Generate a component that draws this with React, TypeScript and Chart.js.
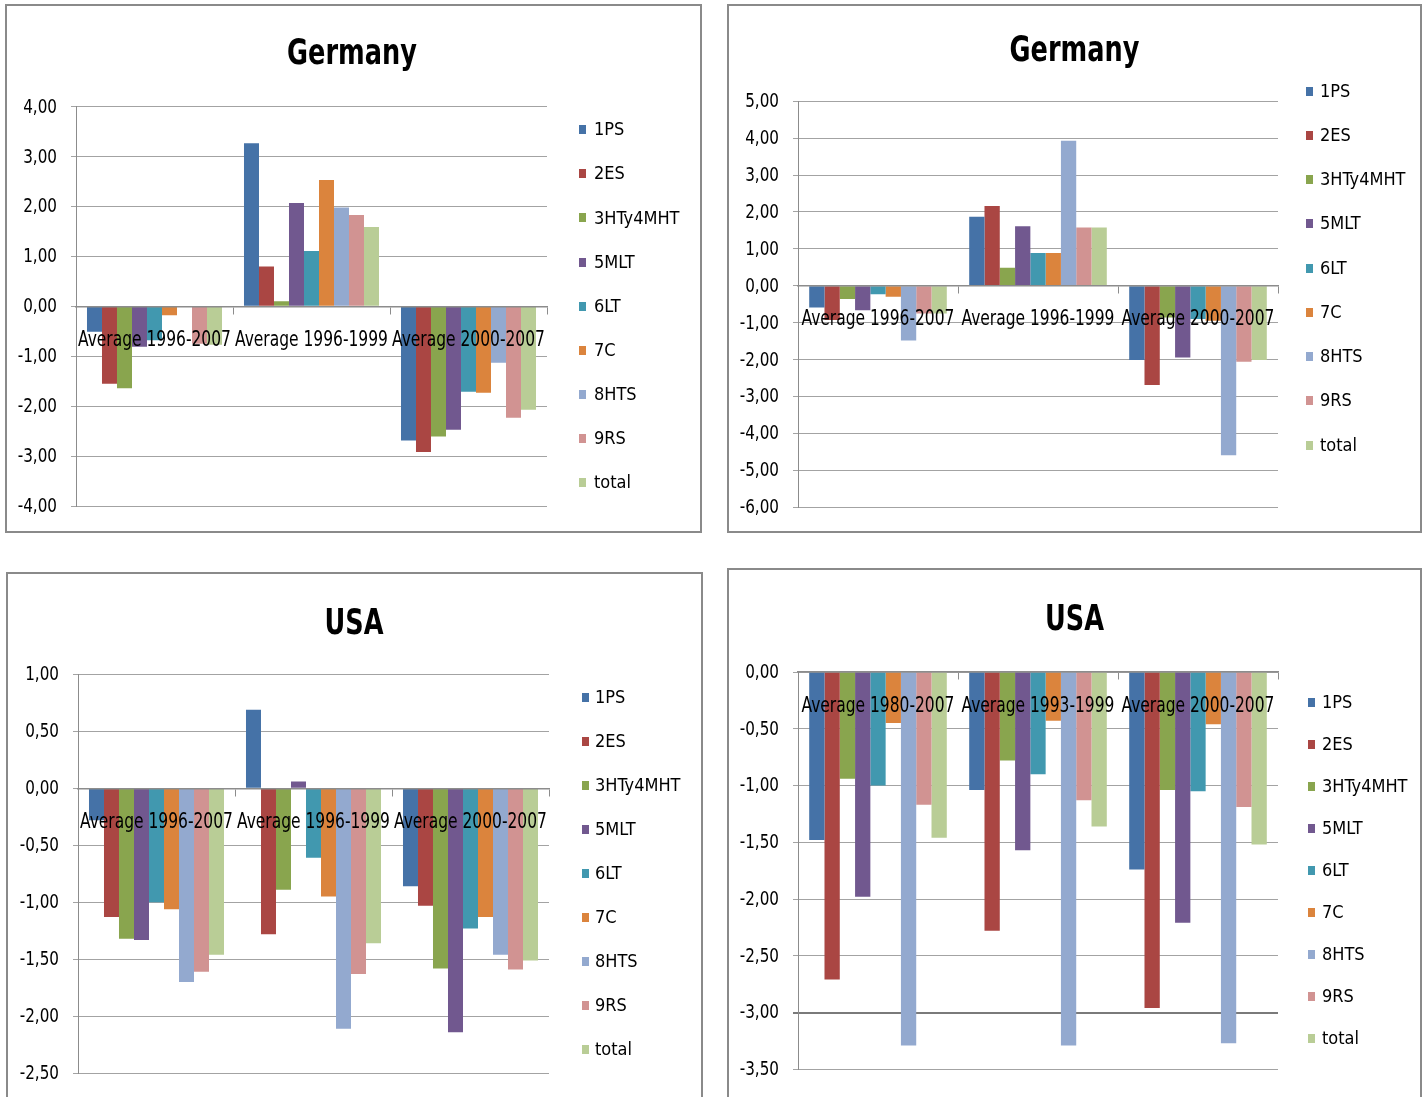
import React, { useEffect, useRef } from 'react';
import { Chart, registerables } from 'chart.js';

Chart.register(...registerables);

// ---- Series shared by all four panels ----
const SERIES_NAMES = ['1PS', '2ES', '3HTy4MHT', '5MLT', '6LT', '7C', '8HTS', '9RS', 'total'];
const SERIES_COLORS = ['#4572A7', '#AA4643', '#89A54E', '#71588F', '#4198AF', '#DB843D', '#93A9CF', '#D19392', '#B9CD96'];

// ---- Germany (left) ----
const DE_A_PERIODS = ['Average 1996-2007', 'Average 1996-1999', 'Average 2000-2007'];
// one row per series, in SERIES_NAMES order
const DE_A_VALUES: number[][] = [
  [-0.51, 3.27, -2.69],
  [-1.55, 0.80, -2.92],
  [-1.64, 0.10, -2.61],
  [-0.81, 2.07, -2.47],
  [-0.68, 1.11, -1.71],
  [-0.18, 2.53, -1.73],
  [0.0, 1.98, -1.13],
  [-0.75, 1.83, -2.23],
  [-0.77, 1.59, -2.07],
];
const DE_A_AXIS = [-4, 4, 1]; // min, max, step

// ---- Germany (right) ----
const DE_B_PERIODS = ['Average 1996-2007', 'Average 1996-1999', 'Average 2000-2007'];
const DE_B_VALUES: number[][] = [
  [-0.59, 1.87, -2.01],
  [-0.93, 2.16, -2.69],
  [-0.36, 0.49, -0.86],
  [-0.66, 1.61, -1.94],
  [-0.23, 0.89, -0.90],
  [-0.30, 0.89, -0.95],
  [-1.48, 3.93, -4.59],
  [-0.75, 1.58, -2.06],
  [-0.75, 1.58, -2.01],
];
const DE_B_AXIS = [-6, 5, 1];

// ---- USA (left) ----
const US_A_PERIODS = ['Average 1996-2007', 'Average 1996-1999', 'Average 2000-2007'];
const US_A_VALUES: number[][] = [
  [-0.28, 0.69, -0.86],
  [-1.13, -1.28, -1.03],
  [-1.32, -0.89, -1.58],
  [-1.33, 0.06, -2.14],
  [-1.00, -0.61, -1.23],
  [-1.06, -0.95, -1.13],
  [-1.70, -2.11, -1.46],
  [-1.61, -1.63, -1.59],
  [-1.46, -1.36, -1.51],
];
const US_A_AXIS = [-2.5, 1, 0.5];

// ---- USA (right) ----
const US_B_PERIODS = ['Average 1980-2007', 'Average 1993-1999', 'Average 2000-2007'];
const US_B_VALUES: number[][] = [
  [-1.48, -1.04, -1.74],
  [-2.71, -2.28, -2.96],
  [-0.94, -0.78, -1.04],
  [-1.98, -1.57, -2.21],
  [-1.00, -0.90, -1.05],
  [-0.45, -0.43, -0.46],
  [-3.29, -3.29, -3.27],
  [-1.17, -1.13, -1.19],
  [-1.46, -1.36, -1.52],
];
const US_B_AXIS = [-3.5, 0, 0.5];

const FONT = "'DejaVu Sans Condensed', 'DejaVu Sans', sans-serif";
const GRID_COLOR = '#a3a3a3';
const AXIS_COLOR = '#8c8c8c';
const FRAME_COLOR = '#8a8a8a';
const TITLE_SQUEEZE = 0.79;
const CATEGORY_SQUEEZE = 0.82;
const VALUE_SQUEEZE = 0.89;

const formatValue = (v: number) => v.toFixed(2).replace('.', ',');

// Value labels, category names under the zero line (drawn over the bars), heading and legend.
const panelDecor = {
  id: 'panelDecor',
  afterDatasetsDraw(chart: any, _args: any, opts: any) {
    const ctx = chart.ctx as CanvasRenderingContext2D;
    const xs = chart.scales.x;
    const ys = chart.scales.y;

    ctx.save();
    ctx.fillStyle = '#000';
    ctx.textBaseline = 'middle';
    ctx.textAlign = 'right';
    ctx.font = `19px ${FONT}`;
    const labelRight = ys.right - opts.valueGap;
    ys.ticks.forEach((t: any) => {
      ctx.save();
      ctx.translate(labelRight, ys.getPixelForValue(t.value) + 1);
      ctx.scale(VALUE_SQUEEZE, 1);
      ctx.fillText(formatValue(t.value), 0, 0);
      ctx.restore();
    });

    const baseY = ys.getPixelForValue(0) + opts.labelDrop;
    ctx.font = `21px ${FONT}`;
    ctx.textAlign = 'center';
    ctx.textBaseline = 'alphabetic';
    (chart.data.labels as string[]).forEach((lab, i) => {
      ctx.save();
      ctx.translate(xs.getPixelForValue(i), baseY);
      ctx.scale(CATEGORY_SQUEEZE, 1);
      ctx.fillText(lab, 0, 0);
      ctx.restore();
    });
    ctx.restore();
  },
  afterDraw(chart: any, _args: any, opts: any) {
    const ctx = chart.ctx as CanvasRenderingContext2D;
    ctx.save();
    ctx.fillStyle = '#000';
    ctx.font = `bold 36px ${FONT}`;
    ctx.textAlign = 'center';
    ctx.textBaseline = 'alphabetic';
    ctx.save();
    ctx.translate(opts.titleX, opts.titleY);
    ctx.scale(TITLE_SQUEEZE, 1);
    ctx.fillText(opts.title, 0, 0);
    ctx.restore();

    ctx.font = `18px ${FONT}`;
    ctx.textAlign = 'left';
    ctx.textBaseline = 'middle';
    chart.data.datasets.forEach((ds: any, i: number) => {
      const cy = opts.legendY + i * opts.legendGap;
      ctx.fillStyle = ds.backgroundColor;
      ctx.fillRect(opts.legendX, Math.round(cy - 4.5), 7, 9);
      ctx.fillStyle = '#000';
      ctx.fillText(ds.label, opts.textX, cy + 1);
    });
    ctx.restore();
  },
};

type PanelProps = {
  title: string;
  periods: string[];
  values: number[][];
  axis: number[];
  box: { left: number; top: number; width: number; height: number };
  area: { left: number; top: number; right: number; bottom: number };
  titlePos: { x: number; y: number };
  legend: { x: number; textX: number; y: number; gap: number };
  strongLine?: number;
};

function ChartPanel(p: PanelProps) {
  const ref = useRef<HTMLCanvasElement | null>(null);
  const cw = p.box.width - 4;
  const ch = p.box.height - 4;

  useEffect(() => {
    if (!ref.current) return;
    const [yMin, yMax, yStep] = p.axis;
    const isStrong = (c: any) => p.strongLine !== undefined && c.tick && c.tick.value === p.strongLine;
    const chart = new Chart(ref.current, {
      type: 'bar',
      data: {
        labels: p.periods,
        datasets: SERIES_NAMES.map((name, i) => ({
          label: name,
          data: p.values[i],
          backgroundColor: SERIES_COLORS[i],
          borderWidth: 0,
          barPercentage: 1,
          categoryPercentage: 0.86,
        })),
      },
      options: {
        animation: false,
        responsive: false,
        devicePixelRatio: 1,
        layout: {
          padding: {
            left: 0,
            top: p.area.top,
            right: cw - p.area.right,
            bottom: ch - p.area.bottom,
          },
        },
        plugins: {
          legend: { display: false },
          title: { display: false },
          tooltip: { enabled: false },
          panelDecor: {
            title: p.title,
            titleX: p.titlePos.x,
            titleY: p.titlePos.y,
            legendX: p.legend.x,
            textX: p.legend.textX,
            legendY: p.legend.y,
            legendGap: p.legend.gap,
            labelDrop: 39.5,
            valueGap: 19,
          },
        } as any,
        scales: {
          x: {
            position: { y: 0 } as any,
            offset: true,
            grid: {
              display: true,
              drawOnChartArea: false,
              drawTicks: true,
              tickLength: 7,
              offset: true,
              color: AXIS_COLOR,
            },
            border: { display: true, color: AXIS_COLOR, width: 1.5, z: 1 } as any,
            ticks: { display: false, autoSkip: false, maxRotation: 0, minRotation: 0 },
          },
          y: {
            min: yMin,
            max: yMax,
            grid: {
              color: (c: any) => (isStrong(c) ? '#7a7a7a' : GRID_COLOR),
              lineWidth: (c: any) => (isStrong(c) ? 2 : 1),
              drawTicks: true,
              tickLength: 5,
            },
            border: { display: true, color: AXIS_COLOR },
            ticks: {
              display: false,
              stepSize: yStep,
            },
            afterFit: (s: any) => {
              s.width = p.area.left;
            },
          },
        },
      },
      plugins: [panelDecor],
    });
    return () => chart.destroy();
  }, []);

  return (
    <div
      style={{
        position: 'absolute',
        left: p.box.left,
        top: p.box.top,
        width: p.box.width,
        height: p.box.height,
        border: `2px solid ${FRAME_COLOR}`,
        boxSizing: 'border-box',
        background: '#fff',
      }}
    >
      <canvas ref={ref} width={cw} height={ch} style={{ display: 'block', width: cw, height: ch }} />
    </div>
  );
}

export default function App() {
  return (
    <div
      style={{
        position: 'fixed',
        left: 0,
        top: 0,
        width: 1426,
        height: 1097,
        background: '#fff',
        overflow: 'hidden',
      }}
    >
      <ChartPanel
        title="Germany"
        periods={DE_A_PERIODS}
        values={DE_A_VALUES}
        axis={DE_A_AXIS}
        box={{ left: 5, top: 4, width: 697, height: 529 }}
        area={{ left: 69, top: 100.7, right: 540, bottom: 500 }}
        titlePos={{ x: 345, y: 58 }}
        legend={{ x: 572, textX: 587, y: 123.7, gap: 44.1 }}
      />
      <ChartPanel
        title="Germany"
        periods={DE_B_PERIODS}
        values={DE_B_VALUES}
        axis={DE_B_AXIS}
        box={{ left: 727, top: 4, width: 695, height: 529 }}
        area={{ left: 69, top: 95.2, right: 549, bottom: 501.3 }}
        titlePos={{ x: 345.5, y: 54.5 }}
        legend={{ x: 577, textX: 591, y: 85, gap: 44.25 }}
      />
      <ChartPanel
        title="USA"
        periods={US_A_PERIODS}
        values={US_A_VALUES}
        axis={US_A_AXIS}
        box={{ left: 6, top: 572, width: 697, height: 545 }}
        area={{ left: 70, top: 100.3, right: 541, bottom: 499.3 }}
        titlePos={{ x: 346, y: 60 }}
        legend={{ x: 574, textX: 587, y: 123, gap: 44.1 }}
      />
      <ChartPanel
        title="USA"
        periods={US_B_PERIODS}
        values={US_B_VALUES}
        axis={US_B_AXIS}
        box={{ left: 727, top: 568, width: 695, height: 549 }}
        area={{ left: 69, top: 102, right: 549, bottom: 499.3 }}
        titlePos={{ x: 345.5, y: 60 }}
        legend={{ x: 579, textX: 593, y: 132, gap: 42 }}
        strongLine={-3}
      />
    </div>
  );
}
